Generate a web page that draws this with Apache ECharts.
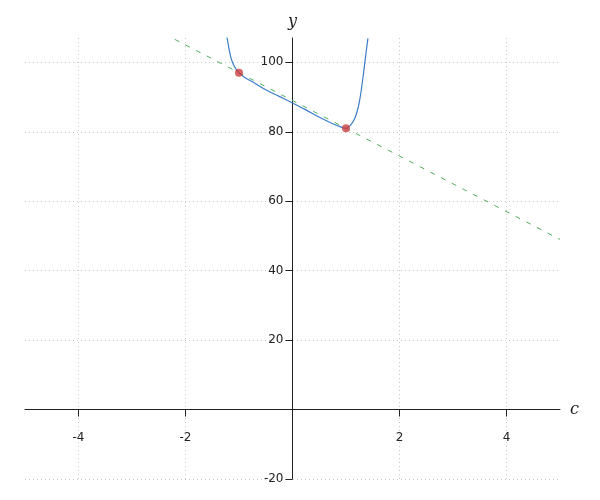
<!DOCTYPE html>
<html>
<head>
<meta charset="utf-8">
<script src="https://cdn.jsdelivr.net/npm/echarts@6/dist/echarts.min.js"></script>
<style>html,body{margin:0;padding:0;background:#fff}#c{width:600px;height:500px}</style>
</head>
<body>
<div id="c"></div>
<script>
// Curve
const curveX = [-1.225, -1.19, -1.15, -1.10, -1.05, -1.0, -0.9, -0.75, -0.5, -0.25, 0, 0.25, 0.5, 0.75, 0.9, 1.0, 1.05, 1.1, 1.15, 1.2, 1.25, 1.3, 1.34, 1.38, 1.41];
const curveY = [107.3, 104.2, 101.3, 99.2, 97.9, 97.0, 95.7, 94.4, 92.1, 90.2, 88.3, 86.3, 84.2, 82.3, 81.4, 81.0, 81.4, 82.2, 83.4, 85.4, 88.6, 93.6, 98.4, 103.4, 106.9];
// Dashed line endpoints
const lineX = [-2.2, 5];
const lineY = [106.6, 49];
// Marked points
const ptX = [-1, 1];
const ptY = [97, 81];
// Axis ticks
const xTicks = [-4, -2, 0, 2, 4];
const xLabels = [-4, -2, 2, 4];
const yTicks = [-20, 0, 20, 40, 60, 80, 100];
const yLabels = [-20, 20, 40, 60, 80, 100];
const xRange = [-5, 5];
const yRange = [-20, 107];

const zip = (a, b) => a.map((v, i) => [v, b[i]]);
const chart = echarts.init(document.getElementById('c'), null, {renderer: 'canvas'});
const splitStyle = {show: true, lineStyle: {color: '#c8c8c8', width: 1, type: [1, 3]}};
chart.setOption({
  animation: false,
  grid: {left: 25, right: 40, top: 38, bottom: 21, containLabel: false, outerBoundsMode: 'none'},
  xAxis: {
    type: 'value', min: xRange[0], max: xRange[1], position: 'bottom',
    name: 'c', nameLocation: 'end', nameGap: 10,
    nameTextStyle: {fontFamily: 'DejaVu Serif', fontStyle: 'italic', fontSize: 16, color: '#222', verticalAlign: 'middle'},
    axisLine: {show: true, onZero: false, lineStyle: {color: '#222', width: 1}},
    axisTick: {show: true, inside: false, length: 7, customValues: xTicks, lineStyle: {color: '#222'}},
    axisLabel: {customValues: xLabels, inside: false, margin: 22, fontFamily: 'DejaVu Sans', fontSize: 12, color: '#222'},
    splitLine: splitStyle
  },
  yAxis: {
    type: 'value', min: yRange[0], max: yRange[1], position: 'left',
    name: 'y', nameLocation: 'end', nameGap: 8,
    nameTextStyle: {fontFamily: 'DejaVu Serif', fontStyle: 'italic', fontSize: 16, color: '#222'},
    axisLine: {show: true, onZero: false, lineStyle: {color: '#222', width: 1}},
    axisTick: {show: true, inside: false, length: 7, customValues: yTicks, lineStyle: {color: '#222'}},
    axisLabel: {customValues: yLabels, inside: false, margin: 9, fontFamily: 'DejaVu Sans', fontSize: 12, color: '#222'},
    splitLine: splitStyle
  },
  series: [
    {type: 'line', data: zip(lineX, lineY), symbol: 'none', lineStyle: {color: '#4cae5a', width: 1, type: [5, 7]}, z: 2},
    {type: 'line', data: zip(curveX, curveY), symbol: 'none', smooth: 0.4, lineStyle: {color: '#3a7dc9', width: 1.2}, z: 3},
    {type: 'scatter', data: zip(ptX, ptY), symbolSize: 8, itemStyle: {color: '#cc3d3d'}, z: 4}
  ]
});
// Move axes so they cross at the origin (through the library's scales)
const zero = chart.convertToPixel({gridIndex: 0}, [0, 0]);
const corner = chart.convertToPixel({gridIndex: 0}, [xRange[0], yRange[0]]);
chart.setOption({
  xAxis: {offset: zero[1] - corner[1]},
  yAxis: {offset: corner[0] - zero[0]}
});
</script>
</body>
</html>
